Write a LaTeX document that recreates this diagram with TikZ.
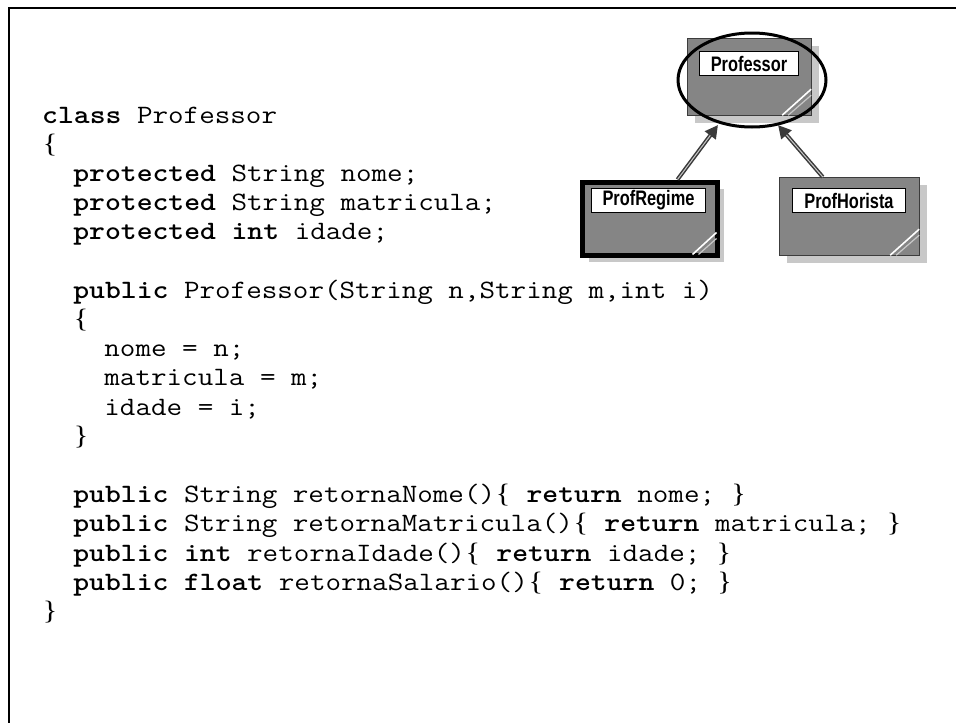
\documentclass[tikz,border=0pt]{standalone}
\usepackage{fontspec}
\usepackage{graphicx}
\newfontfamily\serifbr{Liberation Serif}
\newfontfamily\lblfont[FakeStretch=0.78]{Liberation Sans}
\usetikzlibrary{arrows.meta,calc,shapes.geometric,shadows}
\definecolor{boxgray}{HTML}{858585}
\definecolor{shadowgray}{HTML}{C8C8C8}
\definecolor{edgegray}{HTML}{3C3C3C}
\definecolor{arrgray}{HTML}{3A3A3A}
\newcommand\LB{\makebox[0.525em][c]{\serifbr\{}}
\newcommand\RB{\makebox[0.525em][c]{\serifbr\}}}
\newcommand\kw[1]{\textbf{#1}}
\newcommand\cl[1]{\scalebox{1.14}[1]{#1}}
\begin{document}
\begin{tikzpicture}[x=1pt,y=-1pt,
  codeline/.style={anchor=base west, inner sep=0pt, font=\fontsize{26.5}{29.2}\selectfont\ttfamily},
  classbox/.style={draw=edgegray, line width=1.2pt, fill=boxgray, anchor=north west, inner sep=0pt,
     minimum width=124pt, minimum height=77pt,
     drop shadow={shadow xshift=7pt, shadow yshift=-7pt, fill=shadowgray, opacity=1}},
  thickbox/.style={classbox, draw=black, line width=5pt, minimum width=135pt, minimum height=73pt},
  lbl/.style={draw=black, line width=1pt, fill=white, anchor=north west, inner sep=0pt,
     minimum height=24pt, font=\fontsize{21}{21}\selectfont\lblfont\bfseries},
  corner/.style={white, line width=1.6pt},
  corner2/.style={shadowgray, line width=1.2pt},
  inh/.style={draw=arrgray, line width=4pt, -{Triangle[length=13pt,width=13pt]}},
  inhlight/.style={draw=shadowgray, line width=1pt},
  hilite/.style={draw=black, line width=3pt, ellipse, minimum width=148pt, minimum height=94pt, inner sep=0pt}
]
\useasboundingbox (0,0) rectangle (956,723);
\fill[white] (0,0) rectangle (956,723);
% frame
\draw[line width=2.2pt] (9,724) -- (9,8) -- (957,8);

% code
\node[codeline] (l0)  at (42,123)   {\cl{\kw{class} Professor}};
\node[codeline] (l1)  at (42,152.2) {\cl{\LB}};
\node[codeline] (l2)  at (42,181.4) {\cl{\ \ \kw{protected} String nome;}};
\node[codeline] (l3)  at (42,210.6) {\cl{\ \ \kw{protected} String matricula;}};
\node[codeline] (l4)  at (42,239.8) {\cl{\ \ \kw{protected} \kw{int} idade;}};
\node[codeline] (l6)  at (42,298.2) {\cl{\ \ \kw{public} Professor(String n,String m,int i)}};
\node[codeline] (l7)  at (42,327.4) {\cl{\ \ \LB}};
\node[codeline] (l8)  at (42,356.6) {\cl{\ \ \ \ nome = n;}};
\node[codeline] (l9)  at (42,385.8) {\cl{\ \ \ \ matricula = m;}};
\node[codeline] (l10) at (42,415.0) {\cl{\ \ \ \ idade = i;}};
\node[codeline] (l11) at (42,444.2) {\cl{\ \ \RB}};
\node[codeline] (l13) at (42,502.6) {\cl{\ \ \kw{public} String retornaNome()\LB\ \kw{return} nome; \RB}};
\node[codeline] (l14) at (42,531.8) {\cl{\ \ \kw{public} String retornaMatricula()\LB\ \kw{return} matricula; \RB}};
\node[codeline] (l15) at (42,561.0) {\cl{\ \ \kw{public} \kw{int} retornaIdade()\LB\ \kw{return} idade; \RB}};
\node[codeline] (l16) at (42,590.2) {\cl{\ \ \kw{public} \kw{float} retornaSalario()\LB\ \kw{return} 0; \RB}};
\node[codeline] (l17) at (42,619.4) {\cl{\RB}};

% class boxes
\node[classbox] (prof) at (687,38) {};
\node[thickbox] (regime) at (579.5,179.5) {};
\node[classbox, minimum width=140pt, minimum height=78pt] (horista) at (779,177) {};

% corner marks
\foreach \b in {prof,horista}{
  \draw[corner] ($(\b.south east)+(-30,-1)$) -- ($(\b.south east)+(-1,-27)$);
  \draw[corner2] ($(\b.south east)+(-24,-1)$) -- ($(\b.south east)+(-1,-21)$);
}
\draw[corner] ($(regime.south east)+(-27,-3)$) -- ($(regime.south east)+(-3,-25)$);
\draw[corner2] ($(regime.south east)+(-21,-3)$) -- ($(regime.south east)+(-3,-19)$);

% labels
\node[lbl, minimum width=99pt] (profl) at (699,51) {Professor};
\node[lbl, minimum width=114pt] (regimel) at (591,188) {ProfRegime};
\node[lbl, minimum width=113pt] (horistal) at (792,188) {ProfHorista};

% highlight ellipse
\node[hilite] (hl) at (752,80) {};

% inheritance arrows
\coordinate (r1) at ($(regime.north west)!0.7!(regime.north east)$);
\coordinate (t1) at (718,125);
\coordinate (h1) at ($(horista.north west)!0.31!(horista.north east)$);
\coordinate (t2) at (778,125);
\draw[inh] (r1) -- (t1);
\draw[inh] (h1) -- (t2);
\draw[inhlight, shorten >=13pt] (r1) -- (t1);
\draw[inhlight, shorten >=13pt] (h1) -- (t2);
\end{tikzpicture}
\end{document}
